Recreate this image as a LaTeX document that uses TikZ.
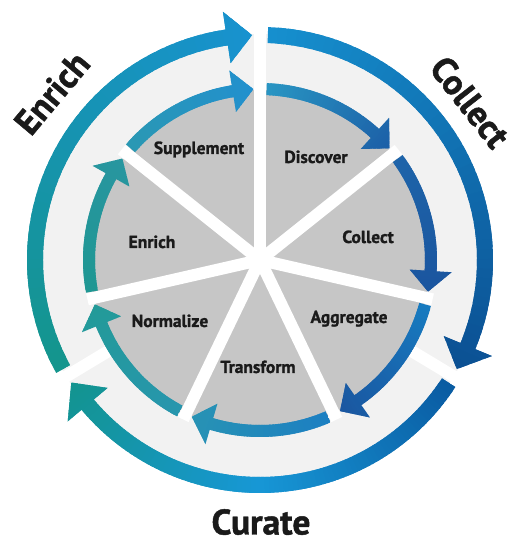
\documentclass[tikz,border=0pt]{standalone}
\usepackage{fontspec}
\setmainfont{PT Sans}[BoldFeatures={FakeBold=1.3}]
\definecolor{ring}{HTML}{F2F2F2}
\definecolor{sect}{HTML}{C6C6C6}
\definecolor{ink}{HTML}{1A1A1A}
\definecolor{oEnA}{HTML}{14958C}\definecolor{oEnB}{HTML}{1892D0}
\definecolor{oCoA}{HTML}{1690CF}\definecolor{oCoB}{HTML}{0B4F92}
\definecolor{oCuA}{HTML}{0A5BA2}\definecolor{oCuM}{HTML}{1797D6}\definecolor{oCuB}{HTML}{13948E}
\definecolor{iSuA}{HTML}{2A98B3}\definecolor{iSuB}{HTML}{2290CE}
\definecolor{iDiA}{HTML}{2996C3}\definecolor{iDiB}{HTML}{1C5FA7}
\definecolor{iCoA}{HTML}{1E64A9}\definecolor{iCoB}{HTML}{1A559F}
\definecolor{iAgA}{HTML}{177BC0}\definecolor{iAgB}{HTML}{1A56A0}
\definecolor{iTrA}{HTML}{1C7FC2}\definecolor{iTrB}{HTML}{2893B4}
\definecolor{iNoA}{HTML}{2796AE}\definecolor{iNoB}{HTML}{239A98}
\definecolor{iEnA}{HTML}{1F9793}\definecolor{iEnB}{HTML}{2896A0}
% clip path of a curved arrow: rin rout hin hout tail tip headlen
\newcommand{\garrowclip}[7]{%
  \pgfmathsetmacro\hbase{#6+#7}%
  \pgfmathsetmacro\rmid{(#1+#2)/2}%
  \clip (#5:#1) -- (#5:#2) arc[start angle=#5, end angle=\hbase, radius=#2]
    -- (\hbase:#4) -- (#6:\rmid) -- (\hbase:#3) -- (\hbase:#1)
    arc[start angle=\hbase, end angle=#5, radius=#1] -- cycle;}
% angular colour stripes: from to colA colB
\newcommand{\gstripes}[4]{%
  \foreach \i in {0,...,47} {%
    \pgfmathsetmacro\angA{#1+(#2-#1)*\i/48}%
    \pgfmathsetmacro\angB{#1+(#2-#1)*(\i+1.8)/48}%
    \pgfmathtruncatemacro\mixp{100*(\i+0.5)/48}%
    \fill[#4!\mixp!#3] (0,0) -- (\angA:300) -- (\angB:300) -- cycle;}}
\newcommand{\innerarrow}[4]{%
  \begin{scope}\garrowclip{165}{177}{150}{192}{#1}{#2}{7}\gstripes{#1}{#2}{#3}{#4}\end{scope}}
\tikzset{
  lbl/.style={font=\bfseries\fontsize{17.5}{17.5}\selectfont, text=ink, anchor=base, inner sep=0pt},
  big/.style={font=\bfseries\fontsize{35.5}{35.5}\selectfont, text=ink, inner sep=0pt}
}
\begin{document}
\begin{tikzpicture}[x=1pt,y=1pt]
\useasboundingbox (0,0) rectangle (519,540);
\fill[white] (0,0) rectangle (519,540);
\begin{scope}[shift={(260,280)}]
  \fill[ring] (0,0) circle[radius=226];
  \fill[sect] (0,0) circle[radius=170];
  \foreach \k in {0,...,6} {\fill[white, rotate={90-\k*360/7}] (0,-6) rectangle (177,6);}
  \fill[white, rotate=90] (0,-6) rectangle (245,6);
  \foreach \a in {-31,211} {\fill[white, rotate=\a] (176,-6) rectangle (245,6);}
  % inner arrows
  \innerarrow{87.8}{40.77}{iDiA}{iDiB}
  \innerarrow{36.37}{-10.66}{iCoA}{iCoB}
  \innerarrow{-15.06}{-62.09}{iAgA}{iAgB}
  \innerarrow{-66.49}{-113.51}{iTrA}{iTrB}
  \innerarrow{-117.91}{-164.94}{iNoA}{iNoB}
  \innerarrow{-169.34}{-216.37}{iEnA}{iEnB}
  \innerarrow{139.23}{92.2}{iSuA}{iSuB}
  % outer arrows
  \begin{scope}\garrowclip{217}{233}{199}{251}{209}{92}{6.5}\gstripes{209}{92}{oEnA}{oEnB}\end{scope}
  \begin{scope}\garrowclip{217}{233}{199}{251}{88}{-29}{6.5}\gstripes{88}{-29}{oCoA}{oCoB}\end{scope}
  \begin{scope}\garrowclip{217}{233}{199}{251}{-33}{-147}{7}\gstripes{-33}{-90}{oCuA}{oCuM}\gstripes{-90}{-147}{oCuM}{oCuB}\end{scope}
\end{scope}
% labels
\node[lbl] (supplement) at (199,386) {Supplement};
\node[lbl] (discover) at (316,377) {Discover};
\node[lbl] (collect) at (368,297) {Collect};
\node[lbl] (aggregate) at (349,217) {Aggregate};
\node[lbl] (transform) at (258,167) {Transform};
\node[lbl] (normalize) at (170,213) {Normalize};
\node[lbl] (enrich) at (152,292) {Enrich};
\node[big, rotate=50] (bigenrich) at (52,447) {Enrich};
\node[big, rotate=-52] (bigcollect) at (470,438) {Collect};
\node[big, anchor=base] (curate) at (261,5.5) {Curate};
\end{tikzpicture}
\end{document}
